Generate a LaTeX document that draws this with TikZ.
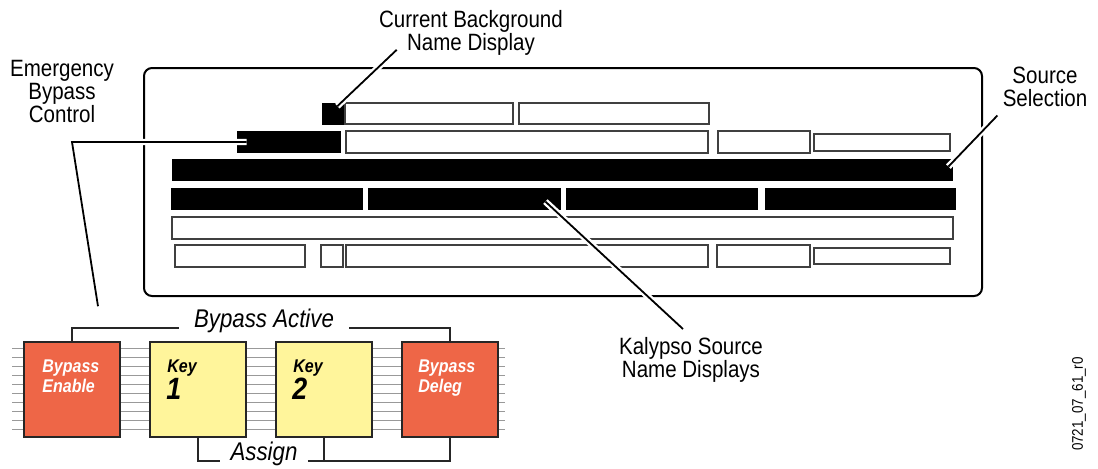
\documentclass[tikz,border=0pt]{standalone}
\usepackage{fontspec}
\setmainfont{Liberation Sans}[FakeStretch=0.87]
\usetikzlibrary{calc}
\definecolor{cRed}{HTML}{EE6647}
\definecolor{cYellow}{HTML}{FFF59B}

\begin{document}
\begin{tikzpicture}[
    x=0.5pt, y=-0.5pt,
    labeltxt/.style={font=\fontsize{11.8}{11.5}\selectfont, align=center, inner sep=0pt},
    whitebox/.style={draw=black!75, line width=0.7pt, fill=white, inner sep=0pt, minimum height=11pt},
    blackbox/.style={fill=black, inner sep=0pt, minimum height=11pt},
    button/.style={draw=black!85, line width=0.8pt, minimum width=48pt, minimum height=47.5pt, inner sep=0pt},
    btntext/.style={font=\fontsize{9.2}{10}\selectfont\bfseries\itshape, align=left, inner sep=0pt, anchor=north west},
    btnnum/.style={font=\fontsize{15.4}{15}\selectfont\bfseries\itshape, inner sep=0pt, anchor=north west},
    stripline/.style={gray!80, line width=0.5pt},
    bracketline/.style={black!85, line width=0.6pt},
    leadline/.style={line width=0.9pt, preaction={draw=white, line width=3.2pt}}
]
\useasboundingbox (0,0) rectangle (1098,468);

\node[draw, line width=1pt, rounded corners=4pt, minimum width=419pt, minimum height=114pt, inner sep=0pt] (panel) at (563,182) {};

\node[blackbox, minimum width=11pt] (bgsq) at (333,113.5) {};
\node[whitebox, minimum width=84pt, minimum height=10.5pt] (rowAa) at (429,113.5) {};
\node[whitebox, minimum width=95pt, minimum height=10.5pt] (rowAb) at (614,113.5) {};

\node[blackbox, minimum width=52pt] (bypass) at (289,142) {};
\node[whitebox, minimum width=181pt] (rowBa) at (527,142) {};
\node[whitebox, minimum width=46pt] (rowBb) at (764,142) {};
\node[whitebox, minimum width=68pt, minimum height=8.5pt] (rowBc) at (882,142.5) {};

\node[blackbox, minimum width=390.5pt] (srcbar) at (562.5,170) {};

\node[blackbox, minimum width=96pt] (k1) at (267,199) {};
\node[blackbox, minimum width=96.5pt] (k2) at (464.5,199) {};
\node[blackbox, minimum width=96pt] (k3) at (662,199) {};
\node[blackbox, minimum width=95.5pt] (k4) at (860.5,199) {};

\node[whitebox, minimum width=390.5pt] (rowE) at (562.5,228) {};

\node[whitebox, minimum width=65pt] (rowFa) at (240,256) {};
\node[whitebox, minimum width=11pt] (rowFb) at (332,256) {};
\node[whitebox, minimum width=181pt] (rowFc) at (527,256) {};
\node[whitebox, minimum width=46.5pt] (rowFd) at (763.5,256) {};
\node[whitebox, minimum width=68pt, minimum height=8pt] (rowFe) at (882,256) {};

\foreach \k in {0,...,9}
    \draw[stripline] (12,{348+9*\k}) -- (505,{348+9*\k});

\node[button, fill=cRed] (bypen) at (72,389.5) {};
\node[button, fill=cYellow] (key1) at (198,389.5) {};
\node[button, fill=cYellow] (key2) at (324,389.5) {};
\node[button, fill=cRed] (bypdeleg) at (450,389.5) {};

\node[btntext, text=white] (bypenT) at (42,359) {Bypass\\Enable};
\node[btntext] (key1T) at (167,359) {Key};
\node[btnnum] (key1N) at (166,378) {1};
\node[btntext] (key2T) at (293,359) {Key};
\node[btnnum] (key2N) at (292,378) {2};
\node[btntext, text=white] (bypdelegT) at (418,359) {Bypass\\Deleg};

\node[labeltxt, font=\fontsize{12.8}{12}\selectfont\itshape, inner xsep=7.5pt, anchor=north] (active) at (264,309) {Bypass Active};
\node[labeltxt, font=\fontsize{12.8}{12}\selectfont\itshape, inner xsep=5pt, anchor=north] (assign) at (264,442) {Assign};

\draw[bracketline] (bypen.north) |- (active.base west);
\draw[bracketline] (active.base east) -| (bypdeleg.north);
\draw[bracketline] (key1.south) |- (assign.base west);
\draw[bracketline] (assign.base east) -| (bypdeleg.south);
\draw[bracketline] (key2.south) -- (key2.south |- assign.base);

\node[labeltxt, anchor=north] (bgname) at (471,10) {Current Background\\Name Display};
\node[labeltxt, anchor=north] (ebc) at (62,60) {Emergency\\Bypass\\Control};
\node[labeltxt, anchor=north] (srcname) at (1045,67) {Source\\Selection};
\node[labeltxt, anchor=north] (kalname) at (691,337) {Kalypso Source\\Name Displays};
\node[inner sep=0pt, font=\fontsize{7.7}{8}\selectfont, rotate=90] (tag) at (1079,404) {0721\_07\_61\_r0};

\coordinate (ebcbend) at ($(ebc.south |- bypass.west)+(10,0)$);
\draw[leadline] ([shift={(18,-6)}]bgname.south west) -- ([shift={(-7,4)}]bgsq.north east);
\draw[leadline] ([shift={(26,-35)}]bypen.north) -- (ebcbend) -- ([shift={(10,0)}]bypass.west);
\draw[leadline] ([shift={(-5,8)}]srcname.south west) -- ([shift={(-5,8)}]srcbar.north east);
\draw[leadline] ([shift={(-8,-8)}]kalname.north) -- ([shift={(-16,14)}]k2.north east);
\end{tikzpicture}
\end{document}
